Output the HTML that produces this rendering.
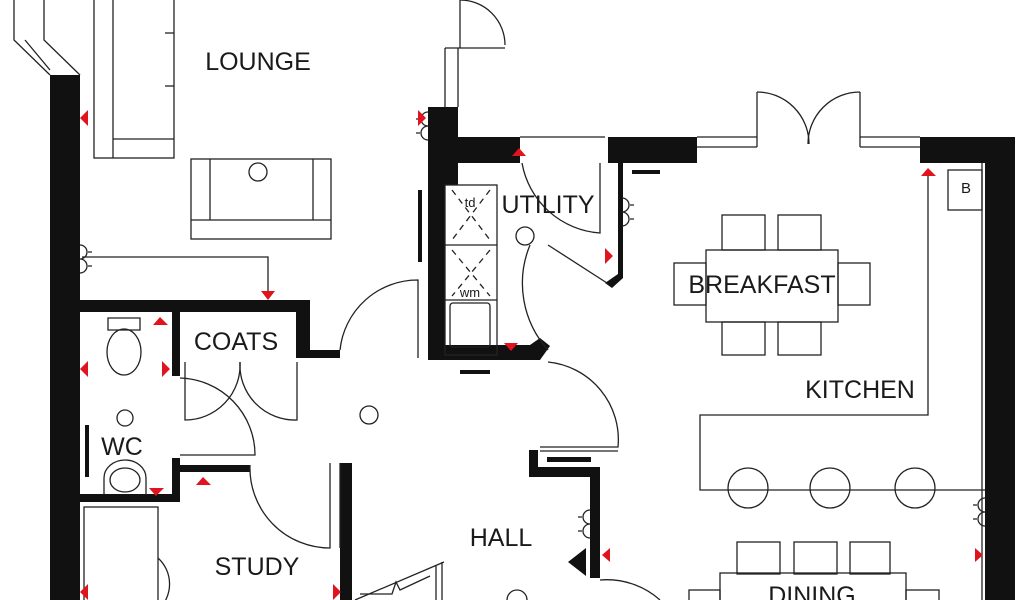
<!DOCTYPE html>
<html><head><meta charset="utf-8"><style>
html,body{margin:0;padding:0;background:#fff;}
svg{display:block;}
text{font-family:"Liberation Sans",sans-serif;fill:#1a1a1a;}
</style></head><body>
<svg width="1024" height="600" viewBox="0 0 1024 600" xmlns="http://www.w3.org/2000/svg">
<g fill="#111" stroke="none">
<rect x="50" y="75" width="30" height="525"/>
<rect x="80" y="300" width="230" height="12"/>
<rect x="296" y="300" width="14" height="58"/>
<rect x="310" y="350" width="30" height="8"/>
<rect x="172" y="312" width="8" height="64"/>
<rect x="80" y="494" width="97" height="8"/>
<rect x="172" y="458" width="8" height="44"/>
<rect x="177" y="465" width="73" height="7"/>
<rect x="428" y="107" width="30" height="78"/>
<rect x="428" y="137" width="92" height="26"/>
<rect x="428" y="185" width="17" height="175"/>
<rect x="428" y="345" width="102" height="15"/>
<polygon points="530,345 540,338 550,346 540,360 530,360"/>
<rect x="608" y="137" width="89" height="26"/>
<rect x="618" y="163" width="5" height="115"/>
<polygon points="618,274 623,278 612,288 605,283"/>
<rect x="920" y="137" width="95" height="26"/>
<rect x="985" y="137" width="30" height="463"/>
<rect x="340" y="463" width="12" height="137"/>
<rect x="529" y="450" width="9" height="27"/>
<rect x="529" y="467" width="71" height="10"/>
<rect x="590" y="467" width="10" height="111"/>
<polygon points="586,548 586,576 568,562"/>
<rect x="632" y="170" width="28" height="4"/>
<rect x="460" y="370" width="30" height="4"/>
<rect x="418" y="190" width="4" height="72"/>
<rect x="547" y="457" width="44" height="5"/>
<rect x="85" y="425" width="4" height="52"/>
</g>
<g fill="none" stroke="#222" stroke-width="1.3">
<polyline points="50,75 14,40 14,0"/>
<polyline points="80,75 44,40 44,0"/>
<polyline points="25,40 50,70"/>
<rect x="94" y="-2" width="80" height="160"/>
<line x1="113" y1="0" x2="113" y2="158"/>
<line x1="113" y1="139" x2="174" y2="139"/>
<line x1="165" y1="33" x2="174" y2="33"/><line x1="165" y1="86" x2="174" y2="86"/>
<rect x="191" y="159" width="140" height="80"/>
<line x1="210" y1="159" x2="210" y2="220"/><line x1="313" y1="159" x2="313" y2="220"/>
<line x1="191" y1="220" x2="331" y2="220"/>
<circle cx="258" cy="172" r="9"/>
<polyline points="82,257 268,257 268,292"/>
<line x1="460" y1="0" x2="460" y2="48"/>
<line x1="445" y1="48" x2="505" y2="48"/>
<line x1="445" y1="48" x2="445" y2="107"/><line x1="458" y1="48" x2="458" y2="107"/>
<path d="M460,0 A45,45 0 0 1 505,45"/>
<line x1="697" y1="137" x2="757" y2="137"/><line x1="697" y1="147" x2="757" y2="147"/>
<line x1="860" y1="137" x2="920" y2="137"/><line x1="860" y1="147" x2="920" y2="147"/>
<line x1="757" y1="92" x2="757" y2="147"/><line x1="860" y1="92" x2="860" y2="147"/>
<path d="M757,92 A52,52 0 0 1 809,144"/><path d="M860,92 A52,52 0 0 0 808,144"/>
<line x1="520" y1="137" x2="605" y2="137"/>
<rect x="445" y="185" width="52" height="170"/>
<line x1="445" y1="245" x2="497" y2="245"/><line x1="445" y1="300" x2="497" y2="300"/>
<rect x="450" y="303" width="40" height="44" rx="3"/>
<path d="M452,190 L490,240 M490,190 L452,240 M452,250 L490,296 M490,250 L452,296" stroke-dasharray="6,5"/>
<path d="M522,163 A85,85 0 0 0 600,233 L600,163"/>
<line x1="548" y1="245" x2="607" y2="283"/>
<path d="M548,350 A100,100 0 0 1 530,245"/>
<circle cx="525" cy="236" r="9"/>
<path d="M340,350 A78,78 0 0 1 418,280 L418,358"/>
<path d="M548,362 A78,78 0 0 1 618,447 L540,447"/>
<line x1="540" y1="451" x2="618" y2="451"/>
<path d="M600,580 A80,80 0 0 1 660,600"/>
<circle cx="369" cy="415" r="9"/><circle cx="517" cy="600" r="10"/>
<path d="M185,362 L185,420 A55,55 0 0 0 240,362"/>
<path d="M297,362 L297,420 A55,55 0 0 1 240,362"/>
<path d="M180,378 A77,77 0 0 1 255,455 L180,455"/>
<circle cx="125" cy="418" r="8"/>
<path d="M108,318 h32 v12 h-32 z"/>
<ellipse cx="124" cy="352" rx="17" ry="23"/>
<path d="M104,495 L104,478 A21,18 0 0 1 146,478 L146,495"/>
<ellipse cx="125" cy="480" rx="15" ry="12"/>
<path d="M250,465 A80,80 0 0 0 330,548 L330,463"/>
<line x1="340" y1="463" x2="340" y2="548"/>
<rect x="84" y="507" width="74" height="100"/>
<path d="M158,558 A35,35 0 0 1 158,610"/>
<polyline points="355,600 444,562"/>
<line x1="436" y1="565" x2="436" y2="600"/><line x1="442" y1="562" x2="442" y2="600"/>
<path d="M360,594 L392,594 L396,582 L400,590 L430,576"/>
<polyline points="928,172 928,415 700,415 700,490 985,490"/>
<circle cx="748" cy="488" r="20"/><circle cx="830" cy="488" r="20"/><circle cx="915" cy="488" r="20"/>
<rect x="948" y="170" width="34" height="40"/>
<line x1="982" y1="163" x2="982" y2="600"/>
<rect x="722" y="215" width="43" height="35"/><rect x="778" y="215" width="43" height="35"/>
<rect x="722" y="322" width="43" height="33"/><rect x="778" y="322" width="43" height="33"/>
<rect x="674" y="263" width="32" height="42"/><rect x="838" y="263" width="32" height="42"/>
<rect x="706" y="250" width="132" height="72"/>
<rect x="737" y="542" width="43" height="32"/><rect x="794" y="542" width="43" height="32"/><rect x="850" y="542" width="40" height="32"/>
<rect x="720" y="573" width="186" height="40"/>
<rect x="689" y="590" width="31" height="20"/><rect x="906" y="590" width="33" height="20"/>
<path d="M428,112 a7,7 0 0 0 0,14 a7,7 0 0 0 0,14 M420,119 h-4 M420,133 h-4"/>
<path d="M80,245 a7,7 0 0 1 0,14 a7,7 0 0 1 0,14 M88,252 h4 M88,266 h4"/>
<path d="M622,198 a7,7 0 0 1 0,14 a7,7 0 0 1 0,14 M630,205 h4 M630,219 h4"/>
<path d="M590,510 a7,7 0 0 0 0,14 a7,7 0 0 0 0,14 M582,517 h-4 M582,531 h-4"/>
<path d="M985,498 a7,7 0 0 0 0,14 a7,7 0 0 0 0,14 M977,505 h-4 M977,519 h-4"/>
</g>
<g fill="#e0141e">
<polygon points="88,110 80,118 88,126"/>
<polygon points="418,110 426,118 418,126"/>
<polygon points="261,291 275,291 268,300"/>
<polygon points="512,156 526,156 519,148"/>
<polygon points="504,343 518,343 511,351"/>
<polygon points="605,248 613,256 605,264"/>
<polygon points="921,176 936,176 928,168"/>
<polygon points="153,325 168,325 160,317"/>
<polygon points="88,361 80,369 88,377"/>
<polygon points="162,361 170,369 162,377"/>
<polygon points="196,485 211,485 203,477"/>
<polygon points="149,488 164,488 156,496"/>
<polygon points="88,584 80,592 88,600"/>
<polygon points="333,584 341,592 333,600"/>
<polygon points="610,548 602,555 610,562"/>
<polygon points="975,548 983,555 975,562"/>
</g>
<g font-size="25">
<text x="258" y="70" text-anchor="middle">LOUNGE</text>
<text x="548" y="213" text-anchor="middle">UTILITY</text>
<text x="762" y="293" text-anchor="middle">BREAKFAST</text>
<text x="860" y="398" text-anchor="middle">KITCHEN</text>
<text x="236" y="350" text-anchor="middle">COATS</text>
<text x="122" y="455" text-anchor="middle">WC</text>
<text x="257" y="575" text-anchor="middle">STUDY</text>
<text x="501" y="546" text-anchor="middle">HALL</text>
<text x="812" y="604" text-anchor="middle">DINING</text>
<text x="966" y="193" text-anchor="middle" font-size="15">B</text>
<text x="470" y="207" text-anchor="middle" font-size="13">td</text>
<text x="470" y="297" text-anchor="middle" font-size="13">wm</text>
</g>
</svg>
</body></html>
